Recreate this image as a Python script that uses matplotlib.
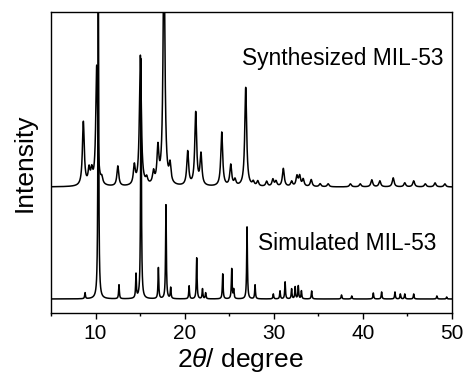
import numpy as np
import matplotlib
matplotlib.use("Agg")
import matplotlib.pyplot as plt
from matplotlib.ticker import MultipleLocator

# ---- data (2theta positions, peak heights in arbitrary units) ----
synth_pos = [8.63, 9.27, 9.57, 10.13, 10.7, 12.5, 14.35, 15.03, 15.74, 16.5, 17.0,
             17.68, 18.36, 20.34, 21.24, 21.83, 24.16, 25.17, 25.65, 26.85,
             27.7, 28.2, 29.2, 29.9, 30.25, 31.07, 32.0, 32.6, 32.9, 33.3, 34.2,
             35.2, 36.1, 38.6, 39.7, 41.0, 41.9, 43.4, 44.7, 45.7, 47.0, 48.1, 49.2]
synth_int = [64, 15, 13, 120, 6, 20, 19, 130, 6, 12, 35,
             240, 18, 34, 73, 31, 54, 21, 6, 99,
             4, 5, 5, 7, 5, 18, 5, 10, 10, 7, 7,
             3, 3, 3, 3, 7, 6, 9, 4, 6, 3, 4, 3]

sim_pos = [8.82, 10.31, 12.63, 14.54, 15.1, 17.05, 17.9, 18.43, 20.5, 21.35, 22.0,
           22.35, 24.27, 25.28, 25.5, 27.0, 27.9, 29.95, 30.7, 31.27, 32.0, 32.4,
           32.75, 33.1, 34.25, 37.6, 38.75, 41.17, 42.1, 43.6, 44.2, 44.7, 45.7,
           48.3, 49.4]
sim_int = [6, 330, 14, 24, 240, 31, 94, 11, 13, 41, 10,
           6, 25, 30, 9, 72, 14, 5, 8, 17, 10, 12,
           13, 8, 8, 4, 3, 6, 7, 7, 5, 5, 5,
           3, 2]

synth_offset = 126
sim_offset = 14
labels = ["Synthesized MIL-53", "Simulated MIL-53"]
x_ticks = [10, 20, 30, 40, 50]


def profile(x, pos, inten, fwhm):
    g = fwhm / 2.0
    y = np.zeros_like(x)
    for p, h in zip(pos, inten):
        y += h * g**2 / ((x - p) ** 2 + g**2)
    return y


x = np.linspace(5, 50, 9001)
y_synth = synth_offset + profile(x, synth_pos, synth_int, 0.25)
y_sim = sim_offset + profile(x, sim_pos, sim_int, 0.10)

plt.rcParams['font.family'] = ['Liberation Sans', 'DejaVu Sans']
plt.rcParams['mathtext.fontset'] = 'custom'
plt.rcParams['mathtext.it'] = 'Liberation Sans:italic'
plt.rcParams['mathtext.rm'] = 'Liberation Sans'

fig = plt.figure(figsize=(4.70, 3.77), dpi=100)
ax = fig.add_axes([0.1085, 0.1698, 0.8532, 0.7984])

ax.plot(x, y_synth, color='black', lw=1.1)
ax.plot(x, y_sim, color='black', lw=1.1)

ax.set_xlim(5, 50)
ax.set_ylim(0, 301)
ax.set_yticks([])
ax.set_xticks(x_ticks)
ax.xaxis.set_minor_locator(MultipleLocator(5))
ax.tick_params(axis='x', which='major', direction='out', length=4, width=1.0,
               labelsize=15, pad=4)
ax.tick_params(axis='x', which='minor', direction='out', length=2.5, width=1.0)
for s in ax.spines.values():
    s.set_linewidth(1.0)

ax.text(26.44, 248, labels[0], fontsize=16.4, ha='left', va='baseline')
ax.text(28.27, 63, labels[1], fontsize=16.4, ha='left', va='baseline')

ax.set_xlabel(r'2$\mathit{\theta}$/ degree', fontsize=19, labelpad=2)
ax.xaxis.label.set_x(0.471)
ax.set_ylabel('Intensity', fontsize=19)
ax.yaxis.set_label_coords(-0.035, 0.5)

fig.savefig('out.png', dpi=100)
